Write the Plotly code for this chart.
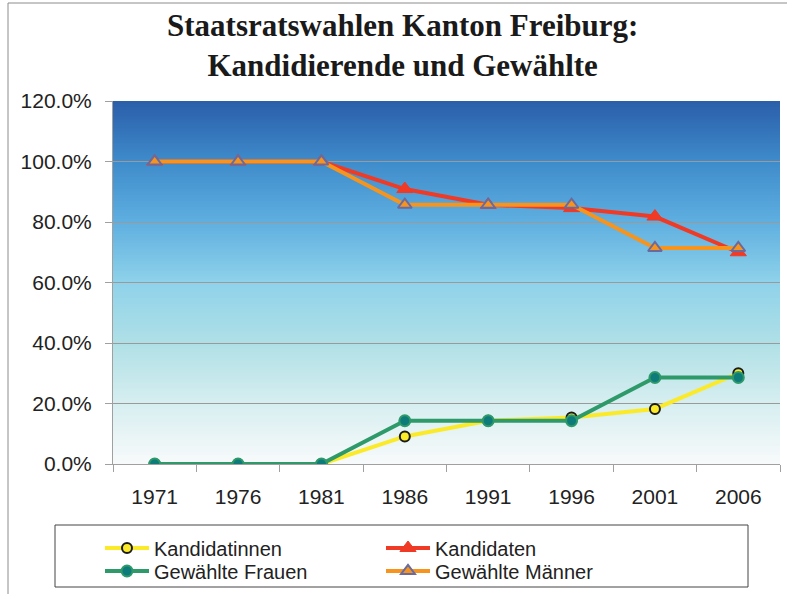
import plotly.graph_objects as go

years = ["1971", "1976", "1981", "1986", "1991", "1996", "2001", "2006"]
kandidatinnen = [0.0, 0.0, 0.0, 9.1, 14.3, 15.4, 18.2, 30.0]
kandidaten = [100.0, 100.0, 100.0, 90.9, 85.7, 84.6, 81.8, 70.0]
gew_frauen = [0.0, 0.0, 0.0, 14.3, 14.3, 14.3, 28.6, 28.6]
gew_maenner = [100.0, 100.0, 100.0, 85.7, 85.7, 85.7, 71.4, 71.4]
y_ticks = [0, 20, 40, 60, 80, 100, 120]
y_ticklabels = ["0.0%", "20.0%", "40.0%", "60.0%", "80.0%", "100.0%", "120.0%"]

W, H = 787, 594
L, R, T, B = 113, 7, 101, 130
PW, PH = W - L - R, H - T - B


def px_x(px):
    return (px - L) / PW


def px_y(py):
    return (H - B - py) / PH


fig = go.Figure()

fig.add_trace(go.Scatter(
    x=years, y=kandidatinnen, name="Kandidatinnen", mode="lines+markers", legend="legend",
    line=dict(color="#fbea2a", width=4),
    marker=dict(symbol="circle", size=10, color="#fbea2a", line=dict(color="#1a1a1a", width=2)),
))
fig.add_trace(go.Scatter(
    x=years, y=kandidaten, name="Kandidaten", mode="lines+markers", legend="legend",
    line=dict(color="#ef3a26", width=4),
    marker=dict(symbol="triangle-up", size=14, color="#ef3a26", line=dict(color="#ef3a26", width=1)),
))
fig.add_trace(go.Scatter(
    x=years, y=gew_frauen, name="Gewählte Frauen", mode="lines+markers", legend="legend2",
    line=dict(color="#2e9a6a", width=4),
    marker=dict(symbol="circle", size=11, color="#0d7b7a", line=dict(color="#2e9a6a", width=2)),
))
fig.add_trace(go.Scatter(
    x=years, y=gew_maenner, name="Gewählte Männer", mode="lines+markers", legend="legend2",
    line=dict(color="#f7941d", width=4),
    marker=dict(symbol="triangle-up", size=12, color="#f7941d", line=dict(color="#6a6a9e", width=2)),
))

# background gradient (bottom -> top)
stops = [
    (0.00, (248, 250, 251)),
    (0.17, (214, 238, 240)),
    (0.33, (176, 224, 230)),
    (0.50, (143, 210, 234)),
    (0.67, (94, 174, 224)),
    (0.83, (63, 140, 203)),
    (1.00, (42, 94, 169)),
]


def col_at(t):
    for (t0, c0), (t1, c1) in zip(stops[:-1], stops[1:]):
        if t0 <= t <= t1:
            f = (t - t0) / (t1 - t0)
            return "rgb(%d,%d,%d)" % tuple(round(a + (b - a) * f) for a, b in zip(c0, c1))
    return "rgb(%d,%d,%d)" % stops[-1][1]


shapes = []
N = 120
for i in range(N):
    y0 = i / N
    y1 = (i + 1) / N + 0.002
    shapes.append(dict(type="rect", xref="x domain", yref="y domain", x0=0, x1=1,
                       y0=y0, y1=min(y1, 1), fillcolor=col_at((i + 0.5) / N),
                       line=dict(width=0), layer="below"))

# legend frame
shapes.append(dict(type="rect", xref="paper", yref="paper",
                   x0=px_x(55), x1=px_x(748), y0=px_y(587), y1=px_y(525),
                   line=dict(color="#444444", width=1), fillcolor="rgba(0,0,0,0)", layer="above"))
# outer chart border (left and top)
shapes.append(dict(type="line", xref="paper", yref="paper",
                   x0=px_x(8), x1=px_x(8), y0=px_y(594), y1=px_y(3),
                   line=dict(color="#8c8c8c", width=1)))
shapes.append(dict(type="line", xref="paper", yref="paper",
                   x0=px_x(8), x1=px_x(787), y0=px_y(3), y1=px_y(3),
                   line=dict(color="#8c8c8c", width=1)))

leg_common = dict(
    orientation="h", xanchor="left", yanchor="middle",
    entrywidth=222, entrywidthmode="pixels", itemwidth=44,
    font=dict(size=20, color="#222222", family="Liberation Sans, Arial, sans-serif"),
    bgcolor="rgba(0,0,0,0)", borderwidth=0, tracegroupgap=0, traceorder="normal",
)

fig.update_layout(
    width=W, height=H,
    margin=dict(l=L, r=R, t=T, b=B, autoexpand=False),
    paper_bgcolor="white",
    plot_bgcolor="rgba(0,0,0,0)",
    font=dict(family="Liberation Sans, Arial, sans-serif", color="#222222", size=20),
    shapes=shapes,
    showlegend=True,
    legend=dict(x=px_x(100), y=px_y(548), **leg_common),
    legend2=dict(x=px_x(100), y=px_y(571), **leg_common),
    annotations=[
        dict(text="<b>Staatsratswahlen Kanton Freiburg:</b><br><b>Kandidierende und Gewählte</b>",
             xref="paper", yref="paper", x=px_x(402), y=px_y(6), xanchor="center", yanchor="top",
             showarrow=False, align="center",
             font=dict(family="Liberation Serif, Times New Roman, serif", size=31, color="#1a1a1a")),
    ],
)

fig.update_xaxes(
    type="category", categoryorder="array", categoryarray=years,
    showline=True, linecolor="#a0a0a0", linewidth=1,
    ticks="outside", ticklen=7, tickcolor="#a0a0a0", tickson="boundaries",
    showgrid=False, tickfont=dict(size=21, color="#222222"),
    ticklabelstandoff=14, range=[-0.5, 7.5],
)
fig.update_yaxes(
    range=[0, 120], tickvals=y_ticks, ticktext=y_ticklabels,
    showline=True, linecolor="#a0a0a0", linewidth=1,
    ticks="outside", ticklen=7, tickcolor="#a0a0a0",
    showgrid=True, gridcolor="#9a9a9a", gridwidth=1, zeroline=False,
    tickfont=dict(size=21, color="#222222"), ticklabelstandoff=9,
)

fig.write_html("out.html", config={"displayModeBar": False},
               post_script="document.body.style.margin='0';document.body.style.overflow='hidden';")
